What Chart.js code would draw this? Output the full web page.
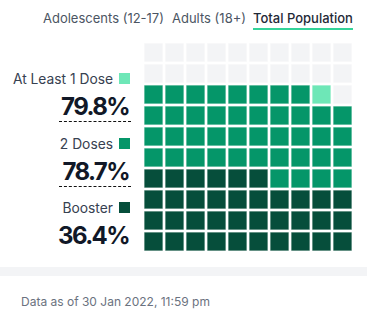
<!DOCTYPE html>
<html>
<head>
<meta charset="utf-8">
<script src="https://cdn.jsdelivr.net/npm/chart.js@4"></script>
<style>
  body { margin: 0; width: 367px; height: 329px; background: #fff; font-family: Inter, sans-serif; position: relative; overflow: hidden; }
  .tab { position: absolute; top: 10px; font-size: 13px; color: #4b5563; white-space: nowrap; }
  .tab.active { color: #1f2937; font-weight: 500; border-bottom: 2px solid #34d399; padding-bottom: 2px; }
  .label { position: absolute; right: 254px; font-size: 13.8px; color: #374151; white-space: nowrap; }
  .sw { position: absolute; left: 119px; width: 11px; height: 11px; }
  .pct { position: absolute; right: 238px; font-size: 24px; font-weight: 700; color: #111827; white-space: nowrap; line-height: 1; letter-spacing: -1.6px; }
  .dash { position: absolute; left: 59px; width: 72px; border-top: 1px dashed #111; }
  #wrap { position: absolute; left: 133px; top: 32px; width: 230px; height: 230px; }
  #band { position: absolute; left: 0; top: 267px; width: 367px; height: 9px; background: #f3f4f6; }
  #foot { position: absolute; left: 21px; top: 294px; font-size: 12px; color: #6b7280; }
</style>
</head>
<body>
<div id="tabs"></div>
<div id="legend"></div>
<div id="wrap"><canvas id="waffle" width="230" height="230"></canvas></div>
<div id="band"></div>
<div id="foot">Data as of 30 Jan 2022, 11:59 pm</div>
<script>
const tabs = ['Adolescents (12-17)', 'Adults (18+)', 'Total Population'];
const tabLeft = [43, 172, 253];
const groups = ['At Least 1 Dose', '2 Doses', 'Booster'];
const percents = [79.8, 78.7, 36.4];
const colors = ['#6ee7b7', '#059669', '#064e3b'];
const emptyColor = '#f3f4f6';

// tabs
tabs.forEach((t, i) => {
  const d = document.createElement('div');
  d.className = 'tab' + (i === 2 ? ' active' : '');
  d.style.left = tabLeft[i] + 'px';
  d.textContent = t;
  document.getElementById('tabs').appendChild(d);
});

// legend labels + big numbers
const legend = document.getElementById('legend');
groups.forEach((g, i) => {
  const top = 71 + i * 64.5;
  const l = document.createElement('div');
  l.className = 'label';
  l.style.top = top + 'px';
  l.textContent = g;
  legend.appendChild(l);
  const s = document.createElement('div');
  s.className = 'sw';
  s.style.top = (top + 2) + 'px';
  s.style.background = colors[i];
  legend.appendChild(s);
  const p = document.createElement('div');
  p.className = 'pct';
  p.style.top = (top + 24) + 'px';
  p.textContent = percents[i].toFixed(1) + '%';
  legend.appendChild(p);
  if (i < 2) {
    const d = document.createElement('div');
    d.className = 'dash';
    d.style.top = (top + 50) + 'px';
    legend.appendChild(d);
  }
});

// waffle cells: filled from bottom-left, row by row
const cells = [];
const cellColors = [];
for (let i = 0; i < 100; i++) {
  cells.push({ x: i % 10, y: Math.floor(i / 10) });
  let c = emptyColor;
  if (i < Math.floor(percents[2])) c = colors[2];
  else if (i < Math.floor(percents[1])) c = colors[1];
  else if (i < Math.floor(percents[0])) c = colors[0];
  cellColors.push(c);
}

new Chart(document.getElementById('waffle'), {
  type: 'scatter',
  data: {
    datasets: [{
      data: cells,
      pointStyle: 'rect',
      pointRadius: 13.1,
      pointHoverRadius: 13.1,
      backgroundColor: cellColors,
      borderColor: 'rgba(255,255,255,0.25)',
      borderWidth: 1
    }]
  },
  options: {
    responsive: false,
    animation: false,
    layout: { padding: 10, autoPadding: false },
    plugins: { legend: { display: false }, tooltip: { enabled: false } },
    scales: {
      x: { display: false, min: -0.5, max: 9.5 },
      y: { display: false, min: -0.5, max: 9.5 }
    }
  }
});
</script>
</body>
</html>
